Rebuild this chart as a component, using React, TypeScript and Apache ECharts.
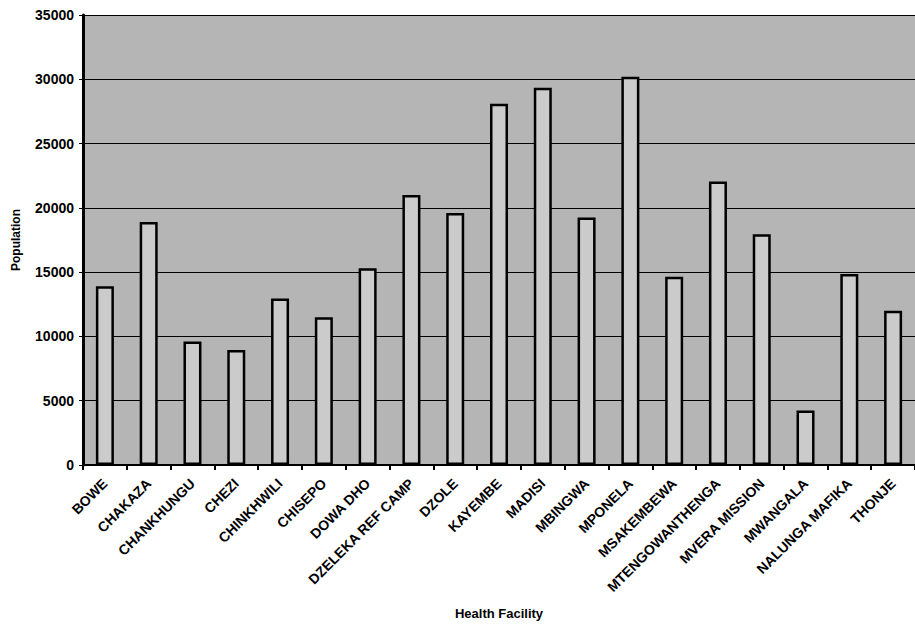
import React, { useEffect, useRef } from "react";
import * as echarts from "echarts";

const categories = [
  "BOWE", "CHAKAZA", "CHANKHUNGU", "CHEZI", "CHINKHWILI", "CHISEPO", "DOWA DHO",
  "DZELEKA REF CAMP", "DZOLE", "KAYEMBE", "MADISI", "MBINGWA", "MPONELA",
  "MSAKEMBEWA", "MTENGOWANTHENGA", "MVERA MISSION", "MWANGALA", "NALUNGA MAFIKA", "THONJE",
];
const population = [
  13900, 18900, 9600, 8950, 12950, 11500, 15300,
  21000, 19600, 28100, 29350, 19250, 30200,
  14650, 22050, 17950, 4230, 14850, 12000,
];
const yTicks = { min: 0, max: 35000, interval: 5000 };
const xTitle = "Health Facility";
const yTitle = "Population";

const FONT = "'Liberation Sans', Arial, sans-serif";

export default function App() {
  const ref = useRef<HTMLDivElement>(null);
  useEffect(() => {
    if (!ref.current) return;
    const chart = echarts.init(ref.current, undefined, { renderer: "svg" });
    chart.setOption({
      animation: false,
      backgroundColor: "#ffffff",
      textStyle: { fontFamily: FONT },
      grid: {
        left: 83,
        top: 15,
        width: 841,
        height: 450,
        show: true,
        backgroundColor: "#b5b5b5",
        borderWidth: 0,
      },
      xAxis: {
        type: "category",
        data: categories,
        name: xTitle,
        nameLocation: "middle",
        nameGap: 142,
        nameTextStyle: { fontFamily: FONT, fontSize: 13, fontWeight: "bold", color: "#000" },
        axisLine: { show: true, lineStyle: { color: "#000", width: 2 } },
        axisTick: { show: true, length: 5, lineStyle: { color: "#000", width: 2 } },
        axisLabel: {
          interval: 0,
          rotate: 45,
          margin: 16,
          fontFamily: FONT,
          fontSize: 14,
          fontWeight: "bold",
          color: "#000",
        },
        splitLine: { show: false },
      },
      yAxis: {
        type: "value",
        min: yTicks.min,
        max: yTicks.max,
        interval: yTicks.interval,
        name: yTitle,
        nameLocation: "middle",
        nameGap: 61,
        nameTextStyle: { fontFamily: FONT, fontSize: 12, fontWeight: "bold", color: "#000" },
        axisLine: { show: true, lineStyle: { color: "#000", width: 3 } },
        axisTick: { show: true, length: 4, lineStyle: { color: "#000", width: 1 } },
        axisLabel: {
          margin: 9,
          fontFamily: FONT,
          fontSize: 14,
          fontWeight: "bold",
          color: "#000",
          formatter: (v: number) => String(v),
        },
        splitLine: { show: true, lineStyle: { color: "#000", width: 1.2 } },
      },
      series: [
        {
          type: "bar",
          data: population,
          barWidth: 18,
          itemStyle: { color: "#cbcbcb", borderColor: "#000", borderWidth: 2.5 },
        },
      ],
    });
    return () => chart.dispose();
  }, []);
  return (
    <div
      ref={ref}
      style={{ position: "fixed", left: 0, top: 0, width: 915, height: 625 }}
    />
  );
}
